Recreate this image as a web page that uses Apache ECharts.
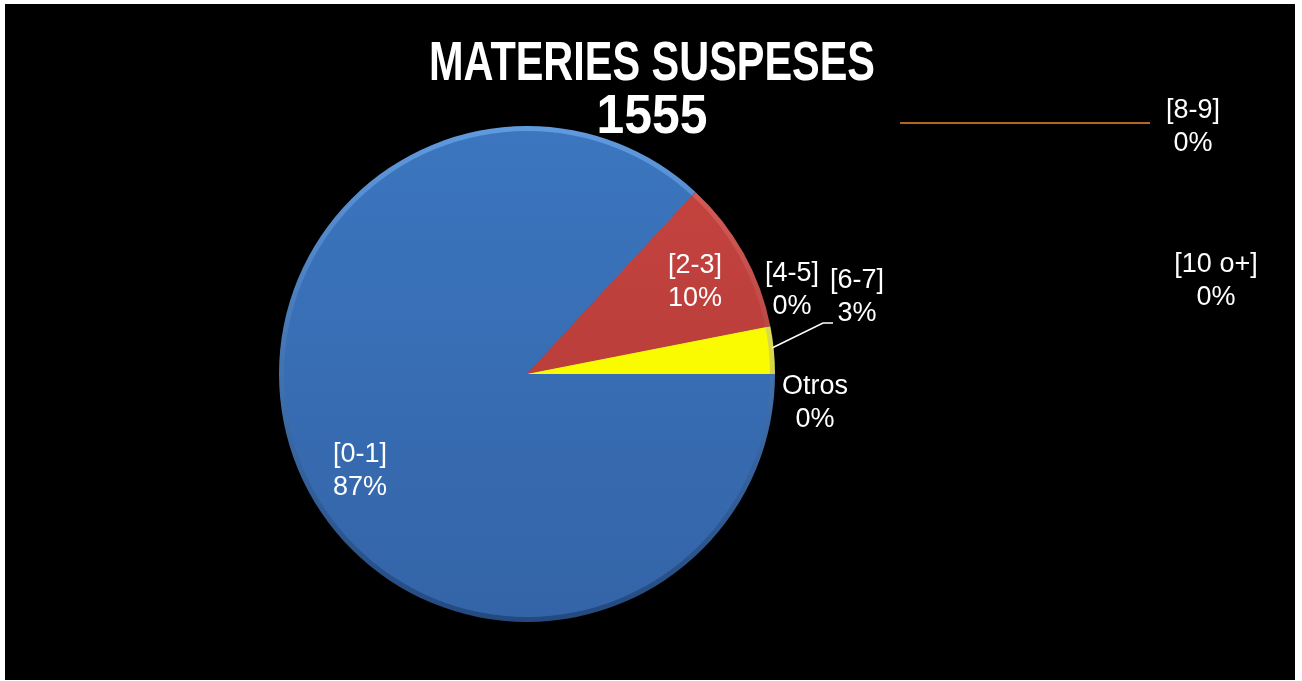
<!DOCTYPE html>
<html>
<head>
<meta charset="utf-8">
<script src="https://cdn.jsdelivr.net/npm/echarts@6/dist/echarts.min.js"></script>
<style>
  html, body { margin: 0; padding: 0; background: #fff; }
  #frame { position: absolute; left: 5px; top: 4px; width: 1290px; height: 676px; background: #000; }
  #chart { position: absolute; left: 0; top: 0; width: 1302px; height: 681px; }
</style>
</head>
<body>
<div id="frame"></div>
<div id="chart"></div>
<script>
// categorias y recuentos (total 1555)
const categories = ['[0-1]', '[2-3]', '[4-5]', '[6-7]', '[8-9]', '[10 o+]', 'Otros'];
const counts = [1351, 156, 0, 48, 0, 0, 0];
const titleText = 'MATERIES SUSPESES';
const totalText = '1555';

const CX = 527, CY = 374, R = 248;

// [claro borde, cuerpo arriba, cuerpo abajo, oscuro borde]
const palette = [
    ['#609ADF', '#3B76BE', '#3464A8', '#23497F'],
    ['#E2625E', '#C4433F', '#B33A36', '#7E2623'],
    ['#C3DB87', '#9BBB59', '#8FAE50', '#5F7833'],
    ['#FFFF8A', '#FFFF00', '#F5F500', '#A8A800'],
    ['#7CC8DC', '#4BACC6', '#4BACC6', '#327A8D'],
    ['#FBB57D', '#F79646', '#F79646', '#B0652B'],
    ['#7FA5D6', '#4F81BD', '#4F81BD', '#35598A']
];

function vgrad(c1, c2) {
    return {
        type: 'linear', x: 0, y: CY - R, x2: 0, y2: CY + R, global: true,
        colorStops: [{ offset: 0, color: c1 }, { offset: 1, color: c2 }]
    };
}

// posicion de cada etiqueta (centro del texto)
const labelPos = [
    [360, 471], [695, 282], [792, 290], [857, 297],
    [1193, 127], [1216, 281], [815, 403]
];
const leaderLines = {
    3: [[772, 348], [823, 323], [833, 323]],
    4: [[900, 123], [1150, 123]]
};

const chart = echarts.init(document.getElementById('chart'));

const rimData = categories.map((c, i) => ({
    name: c, value: counts[i],
    itemStyle: { color: vgrad(palette[i][0], palette[i][3]) }
}));

const data = categories.map((c, i) => ({
    name: c,
    value: counts[i],
    itemStyle: { color: vgrad(palette[i][1], palette[i][2]) },
    label: { position: i < 2 ? 'inside' : 'outside' },
    labelLine: leaderLines[i]
        ? { show: true, lineStyle: { color: i === 4 ? '#B5651D' : '#FFFFFF', width: i === 4 ? 2 : 1.5 } }
        : { show: false }
}));

const titleFont = "'Liberation Sans', Arial, sans-serif";

chart.setOption({
    backgroundColor: 'transparent',
    animation: false,
    graphic: [
        {
            type: 'text', x: 652, y: 65, scaleX: 0.74, silent: true,
            style: { text: titleText, fill: '#fff', font: 'bold 56px ' + titleFont, textAlign: 'center', textVerticalAlign: 'middle' }
        },
        {
            type: 'text', x: 652, y: 118, scaleX: 0.89, silent: true, z: 10,
            style: { text: totalText, fill: '#fff', font: 'bold 56px ' + titleFont, textAlign: 'center', textVerticalAlign: 'middle' }
        }
    ],
    series: [
        {
            type: 'pie', z: 1,
            center: [CX, CY], radius: R,
            startAngle: 0, clockwise: true,
            silent: true,
            label: { show: false }, labelLine: { show: false },
            itemStyle: { borderWidth: 0 },
            data: rimData
        },
        {
            type: 'pie', z: 2,
            center: [CX, CY], radius: R - 5,
            startAngle: 0, clockwise: true,
            percentPrecision: 0,
            silent: true,
            itemStyle: { borderWidth: 0 },
            label: {
                color: '#fff',
                fontFamily: "'Liberation Sans', Arial, sans-serif",
                fontSize: 27,
                lineHeight: 33,
                align: 'center',
                formatter: '{b}\n{d}%'
            },
            labelLayout: function (p) {
                const pos = labelPos[p.dataIndex];
                const out = { x: pos[0], y: pos[1], align: 'center', verticalAlign: 'middle' };
                if (leaderLines[p.dataIndex]) out.labelLinePoints = leaderLines[p.dataIndex];
                return out;
            },
            data: data
        }
    ]
});
</script>
</body>
</html>
